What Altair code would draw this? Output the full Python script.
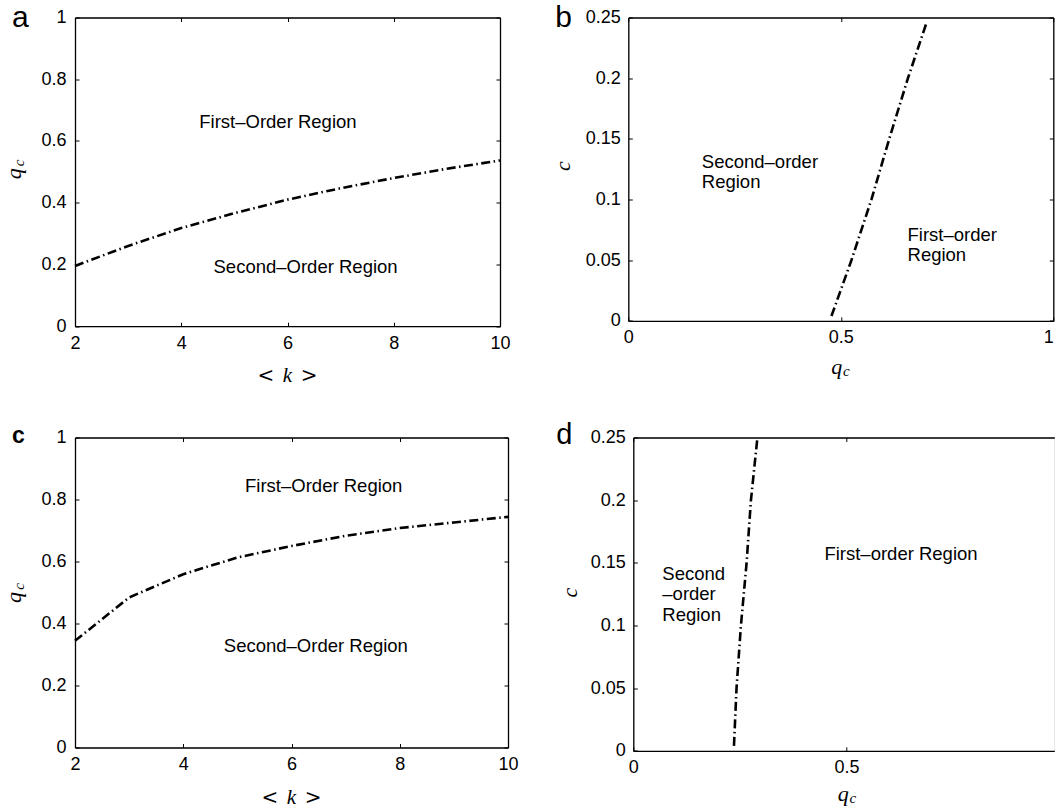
import altair as alt
import pandas as pd

# ---------------- data ----------------
k_vals = [2, 3, 4, 5, 6, 7, 8, 9, 10]
qc_a = [0.195, 0.26, 0.318, 0.366, 0.41, 0.447, 0.48, 0.51, 0.537]
qc_c = [0.344, 0.484, 0.559, 0.613, 0.65, 0.683, 0.708, 0.726, 0.744]

c_b = [0.004, 0.05, 0.1, 0.15, 0.2, 0.246]
qc_b = [0.478, 0.525, 0.572, 0.614, 0.658, 0.702]

c_d = [0.004, 0.05, 0.1, 0.15, 0.2, 0.249]
qc_d = [0.236, 0.242, 0.2523, 0.2656, 0.2758, 0.2907]

k_ticks = [2, 4, 6, 8, 10]
q_ticks = [0, 0.2, 0.4, 0.6, 0.8, 1]
c_ticks = [0, 0.05, 0.1, 0.15, 0.2, 0.25]
qx_ticks = [0, 0.5, 1]

text_a = ["First–Order Region", "Second–Order Region"]
text_a_x = [5.82, 6.34]
text_a_y = [0.66, 0.192]

text_b = ["Second–order\nRegion", "First–order\nRegion"]
text_b_x = [0.173, 0.657]
text_b_y = [0.1312, 0.0709]

text_c = ["First–Order Region", "Second–Order Region"]
text_c_x = [6.595, 6.45]
text_c_y = [0.842, 0.326]

text_d = ["Second\n–order\nRegion", "First–order Region"]
text_d_x = [0.068, 0.448]
text_d_y = [0.1413, 0.157]

SANS = "Liberation Sans"
SERIF = "Liberation Serif"
TICK = 4
ONE = pd.DataFrame({"o": [0]})


def tick_axis(orient, values, labels, pad=8, label_align=None):
    kw = dict(orient=orient, values=values, offset=-TICK, tickSize=TICK,
              tickColor="black", tickWidth=1, domain=False, grid=False,
              title=None, labels=labels)
    if labels:
        kw.update(labelFont=SANS, labelFontSize=18, labelColor="black",
                  labelPadding=pad, format=".2~f", labelFlush=False,
                  labelOverlap=False)
    if label_align is not None:
        kw["labelAlign"] = label_align
    return alt.Axis(**kw)


def frame_axis(orient):
    return alt.Axis(orient=orient, domain=True, domainColor="black",
                    domainWidth=1.3, ticks=False, labels=False, grid=False,
                    title=None)


def note(txt, px, py, size, font=SANS, style="normal", weight="normal",
         angle=0, align="center", baseline="middle"):
    return alt.Chart(ONE).mark_text(
        text=txt, font=font, fontSize=size, fontStyle=style,
        fontWeight=weight, angle=angle, align=align, baseline=baseline,
        color="black").encode(x=alt.value(px), y=alt.value(py))


def panel(df, xf, yf, xdom, ydom, xt, yt, w, h, tdf, talign, lh, extras,
          right=True, xlab_pad=8, ylab_pad=9, x_label_align=None):
    xs = alt.Scale(domain=xdom, nice=False, zero=False)
    ys = alt.Scale(domain=ydom, nice=False, zero=False)
    line = alt.Chart(df).mark_line(
        color="black", strokeWidth=2.6, strokeDash=[9, 3.5, 1.5, 3.5],
        strokeCap="butt").encode(
        x=alt.X(f"{xf}:Q", scale=xs,
                axis=tick_axis("bottom", xt, True, xlab_pad, x_label_align)),
        y=alt.Y(f"{yf}:Q", scale=ys, axis=tick_axis("left", yt, True, ylab_pad)),
    )
    mirror = alt.Chart(df).mark_line(opacity=0).encode(
        x=alt.X(f"{xf}:Q", scale=xs, axis=tick_axis("top", xt, False)),
        y=alt.Y(f"{yf}:Q", scale=ys,
                axis=tick_axis("right", yt, False) if right else None),
    )
    frame1 = alt.Chart(df).mark_line(opacity=0).encode(
        x=alt.X(f"{xf}:Q", scale=xs, axis=frame_axis("bottom")),
        y=alt.Y(f"{yf}:Q", scale=ys, axis=frame_axis("left")),
    )
    frame2 = alt.Chart(df).mark_line(opacity=0).encode(
        x=alt.X(f"{xf}:Q", scale=xs, axis=frame_axis("top")),
        y=alt.Y(f"{yf}:Q", scale=ys, axis=frame_axis("right") if right else None),
    )
    texts = alt.Chart(tdf).mark_text(
        font=SANS, fontSize=18.5, color="black", align=talign,
        baseline="middle", lineBreak="\n", lineHeight=lh).encode(
        x=alt.X("x:Q", scale=xs, axis=None),
        y=alt.Y("y:Q", scale=ys, axis=None),
        text="text:N",
    )
    return alt.layer(frame1, frame2, mirror, line, texts, *extras).resolve_axis(
        x="independent", y="independent").properties(width=w, height=h)


def k_title(cx, y):
    return [note("<", cx - 21.7, y, 20, font="DejaVu Serif"),
            note("k", cx, y, 21, font=SERIF, style="italic"),
            note(">", cx + 21.7, y, 20, font="DejaVu Serif")]


def qc_title_x(cx, y):
    return [note("q", cx - 4, y, 22, font=SERIF, style="italic"),
            note("c", cx + 5.5, y + 4, 15, font=SERIF, style="italic")]


def qc_title_y(px, cy):
    return [note("q", px, cy + 2, 22, font=SERIF, style="italic", angle=270),
            note("c", px + 5, cy - 9, 15, font=SERIF, style="italic", angle=270)]


df_a = pd.DataFrame({"k": k_vals, "q": qc_a})
df_c = pd.DataFrame({"k": k_vals, "q": qc_c})
df_b = pd.DataFrame({"q": qc_b, "c": c_b})
df_d = pd.DataFrame({"q": qc_d, "c": c_d})

ta = pd.DataFrame({"x": text_a_x, "y": text_a_y, "text": text_a})
tb = pd.DataFrame({"x": text_b_x, "y": text_b_y, "text": text_b})
tc = pd.DataFrame({"x": text_c_x, "y": text_c_y, "text": text_c})
td = pd.DataFrame({"x": text_d_x, "y": text_d_y, "text": text_d})

WA, HA = 425, 308.7
WB, HB = 425, 303.4
WC, HC = 433, 310
WD, HD = 421, 313.4

pa = panel(df_a, "k", "q", [2, 10], [0, 1], k_ticks, q_ticks, WA, HA, ta,
           "center", 20,
           [note("a", -63, 9.4, 30, align="left", baseline="alphabetic")]
           + k_title(WA / 2, HA + 49.4) + qc_title_y(-61, HA / 2))

pb = panel(df_b, "q", "c", [0, 1], [0, 0.25], qx_ticks, c_ticks, WB, HB, tb,
           "left", 20,
           [note("b", -73, 9.4, 30, align="left", baseline="alphabetic"),
            note("c", -65.8, HB / 2 - 3, 22, font=SERIF, style="italic", angle=270)]
           + qc_title_x(WB / 2, HB + 46.3),
           ylab_pad=8,
           x_label_align={"condition": {"test": "datum.value == 1", "value": "right"},
                          "value": "center"})

pc = panel(df_c, "k", "q", [2, 10], [0, 1], k_ticks, q_ticks, WC, HC, tc,
           "center", 20,
           [note("c", -63, 5.7, 23, weight="bold", align="left", baseline="alphabetic")]
           + k_title(WC / 2, HC + 50.2) + qc_title_y(-61, HC / 2 + 3))

pd_ = panel(df_d, "q", "c", [0, 0.987], [0, 0.25], [0, 0.5], c_ticks, WD, HD, td,
            "left", 20.5,
            [note("d", -77, 6.7, 29, align="left", baseline="alphabetic"),
             note("c", -63.3, HD / 2 - 1.5, 22, font=SERIF, style="italic", angle=270)]
            + qc_title_x(214, HD + 43.3),
            right=False, ylab_pad=8)

row1 = alt.hconcat(pa, pb, spacing=128.3, bounds="flush")
row2 = alt.hconcat(pc, pd_, spacing=125.3, bounds="flush")
chart = alt.vconcat(row1, row2, spacing=34).properties(
    padding={"left": 2, "top": 1.5, "right": 0, "bottom": 0}
).configure_view(stroke=None).configure(background="white")

chart.save("out.html", embed_options={"renderer": "svg", "actions": False})
